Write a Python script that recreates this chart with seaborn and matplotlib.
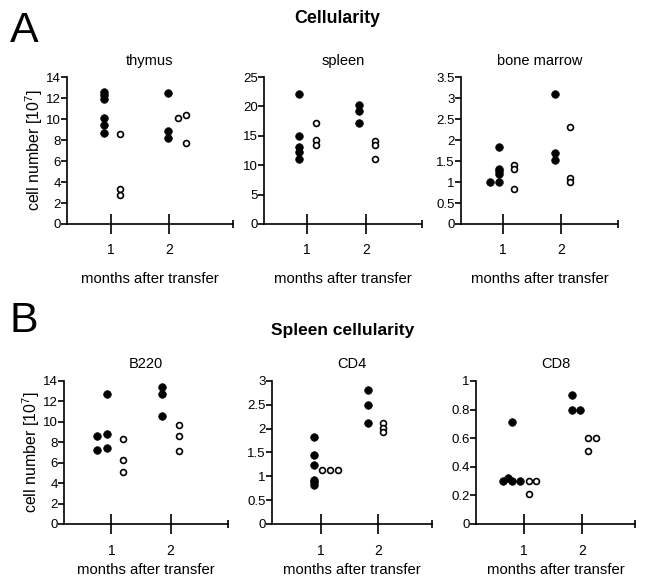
import numpy as np
import pandas as pd
import seaborn as sns
import matplotlib.pyplot as plt
from matplotlib.ticker import FuncFormatter

sns.set_style("ticks", {"text.color": "black", "axes.labelcolor": "black",
                        "xtick.color": "black", "ytick.color": "black",
                        "axes.edgecolor": "black"})
plt.rcParams['font.family'] = ['Liberation Sans', 'DejaVu Sans']

# month ticks
months = [1, 2]
month_labels = ["1", "2"]

# --- A: Cellularity ---
thymus_fx = [0.87, 0.87, 0.87, 0.87, 0.87, 0.87, 1.98, 1.98, 1.98]
thymus_fy = [12.6, 12.3, 11.9, 10.1, 9.4, 8.7, 12.5, 8.9, 8.2]
thymus_ox = [1.16, 1.16, 1.16, 2.16, 2.29, 2.29]
thymus_oy = [8.6, 3.3, 2.8, 10.1, 10.4, 7.7]

spleen_fx = [0.86, 0.86, 0.86, 0.86, 0.86, 1.89, 1.89, 1.89]
spleen_fy = [22.1, 15.0, 13.1, 12.2, 11.0, 20.2, 19.2, 17.2]
spleen_ox = [1.15, 1.15, 1.15, 2.15, 2.15, 2.15]
spleen_oy = [17.2, 14.3, 13.4, 14.2, 13.4, 11.0]

bm_fx = [0.93, 0.93, 0.93, 0.93, 0.78, 0.93, 1.90, 1.90, 1.90]
bm_fy = [1.83, 1.32, 1.26, 1.20, 1.00, 1.00, 3.10, 1.70, 1.53]
bm_ox = [1.19, 1.19, 1.19, 2.16, 2.16, 2.16]
bm_oy = [1.40, 1.31, 0.83, 2.30, 1.10, 1.01]

# --- B: Spleen cellularity ---
b220_fx = [0.76, 0.76, 0.92, 0.92, 0.92, 1.86, 1.86, 1.86]
b220_fy = [7.2, 8.6, 8.8, 7.4, 12.7, 13.4, 12.7, 10.6]
b220_ox = [1.19, 1.19, 1.19, 2.15, 2.15, 2.15]
b220_oy = [8.3, 6.3, 5.1, 9.7, 8.6, 7.1]

cd4_fx = [0.87, 0.87, 0.87, 0.87, 0.87, 0.87, 1.83, 1.83, 1.83]
cd4_fy = [1.82, 1.44, 1.23, 0.93, 0.87, 0.81, 2.80, 2.50, 2.12]
cd4_ox = [1.01, 1.15, 1.29, 2.09, 2.09, 2.09]
cd4_oy = [1.13, 1.13, 1.13, 2.12, 2.02, 1.92]

cd8_fx = [0.63, 0.72, 0.79, 0.92, 0.79, 1.82, 1.82, 1.97]
cd8_fy = [0.30, 0.32, 0.30, 0.30, 0.71, 0.90, 0.80, 0.80]
cd8_ox = [1.08, 1.21, 1.08, 2.10, 2.24, 2.10]
cd8_oy = [0.30, 0.30, 0.21, 0.60, 0.60, 0.51]

panels = [
    # title, filled, open, ymax, ystep, rect, xlim, ylabel, row
    ("thymus", (thymus_fx, thymus_fy), (thymus_ox, thymus_oy), 14, 2,
     [0.1034, 0.6138, 0.2562, 0.2534], (0.24, 3.10), True, "A"),
    ("spleen", (spleen_fx, spleen_fy), (spleen_ox, spleen_oy), 25, 5,
     [0.4074, 0.6138, 0.2438, 0.2534], (0.27, 2.95), False, "A"),
    ("bone marrow", (bm_fx, bm_fy), (bm_ox, bm_oy), 3.5, 0.5,
     [0.7114, 0.6138, 0.2423, 0.2534], (0.28, 2.98), False, "A"),
    ("B220", (b220_fx, b220_fy), (b220_ox, b220_oy), 14, 2,
     [0.0988, 0.0966, 0.2531, 0.2466], (0.20, 2.97), True, "B"),
    ("CD4", (cd4_fx, cd4_fy), (cd4_ox, cd4_oy), 3, 0.5,
     [0.4198, 0.0966, 0.2469, 0.2466], (0.14, 2.95), False, "B"),
    ("CD8", (cd8_fx, cd8_fy), (cd8_ox, cd8_oy), 1, 0.2,
     [0.7346, 0.0966, 0.2454, 0.2466], (0.17, 2.91), False, "B"),
]

fig = plt.figure(figsize=(6.48, 5.8), dpi=100)

for title, (fx, fy), (ox, oy), ymax, ystep, rect, xlim, has_ylabel, row in panels:
    ax = fig.add_axes(rect)
    sns.scatterplot(x=fx, y=fy, ax=ax, color="black", s=30, marker="o",
                    edgecolor="black", linewidth=0.5, zorder=3, clip_on=False)
    sns.scatterplot(x=ox, y=oy, ax=ax, facecolor="white", s=18, marker="o",
                    edgecolor="black", linewidth=1.2, zorder=3, clip_on=False)
    ax.set_xlim(*xlim)
    ax.set_ylim(0, ymax)
    ax.set_yticks(np.arange(0, ymax + ystep / 2, ystep))
    ax.yaxis.set_major_formatter(FuncFormatter(lambda v, p: f"{v:g}"))
    ax.set_xticks(months)
    ax.set_xticklabels(month_labels)
    ax.set_xticks([xlim[1]], minor=True)
    sns.despine(ax=ax)
    for s in ("left", "bottom"):
        ax.spines[s].set_linewidth(1.2)
    ax.tick_params(axis="x", which="major", direction="inout", length=15,
                   width=1.2, labelsize=10, pad=6 if row == "A" else 7)
    ax.tick_params(axis="x", which="minor", direction="inout", length=6,
                   width=1.2)
    ax.tick_params(axis="y", direction="out", length=4, width=1.2,
                   labelsize=9.5, pad=0.5)
    ax.set_title(title, fontsize=10.5, pad=9)
    ax.set_xlabel("months after transfer", fontsize=10.7,
                  labelpad=11 if row == "A" else 3.2)
    if has_ylabel:
        ax.set_ylabel(r"cell number [10$^{\mathregular{7}}$]", fontsize=11.5,
                      labelpad=0.5)

fig.text(0.015, 1 - 42 / 580, "A", fontsize=31, va="baseline")
fig.text(0.015, 1 - 332 / 580, "B", fontsize=31, va="baseline")
fig.text(0.52, 0.968, "Cellularity", fontsize=12.8, fontweight="bold",
         ha="center", va="center")
fig.text(0.528, 0.431, "Spleen cellularity", fontsize=12.5, fontweight="bold",
         ha="center", va="center")

fig.savefig("out.png", dpi=100)
